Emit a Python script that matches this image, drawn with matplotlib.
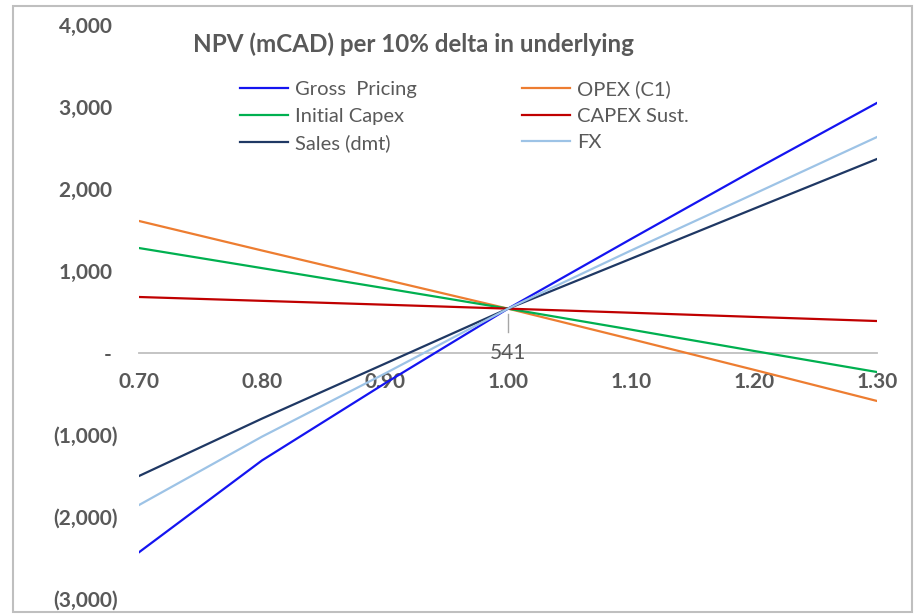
import matplotlib.pyplot as plt
import matplotlib.patches as patches
from matplotlib.ticker import FuncFormatter

plt.rcParams['font.family'] = ['Lato', 'DejaVu Sans']

# sensitivity factor on the underlying
factors = [0.70, 0.80, 0.90, 1.00, 1.10, 1.20, 1.30]

# NPV (mCAD) for each driver
gross_pricing = [-2430, -1310, -370, 541, 1390, 2230, 3050]
opex_c1 = [1610, 1250, 895, 541, 170, -205, -585]
initial_capex = [1280, 1035, 790, 541, 285, 25, -232]
capex_sust = [683, 636, 589, 541, 491, 440, 390]
sales_dmt = [-1500, -800, -130, 541, 1150, 1760, 2366]
fx = [-1854, -1020, -250, 541, 1250, 1940, 2634]

series = [
    ('Gross  Pricing', gross_pricing, '#1414F0'),
    ('OPEX (C1)', opex_c1, '#ED7D31'),
    ('Initial Capex', initial_capex, '#00B050'),
    ('CAPEX Sust.', capex_sust, '#C00000'),
    ('Sales (dmt)', sales_dmt, '#1F3864'),
    ('FX', fx, '#9DC3E6'),
]

base_npv = 541
gray = '#595959'

fig = plt.figure(figsize=(9.2, 6.16), dpi=100)
ax = fig.add_axes([139 / 920, (616 - 599) / 616, (877 - 139) / 920, (599 - 25) / 616])

lines = []
for name, vals, col in series:
    ln, = ax.plot(factors, vals, color=col, lw=1.6, label=name)
    lines.append(ln)

ax.set_xlim(0.70, 1.30)
ax.set_ylim(-3000, 4000)
ax.set_xticks(factors)
ax.set_yticks(range(-3000, 4001, 1000))


def npv_fmt(v, pos):
    # accounting style: dash for zero, brackets for negatives
    if v == 0:
        return '- '
    if v < 0:
        return '({:,.0f})'.format(-v)
    return '{:,.0f} '.format(v)


ax.yaxis.set_major_formatter(FuncFormatter(npv_fmt))
ax.xaxis.set_major_formatter(FuncFormatter(lambda v, p: '{:.2f}'.format(v)))

for s in ['top', 'right', 'left']:
    ax.spines[s].set_visible(False)
ax.spines['bottom'].set_position(('data', 0))
ax.spines['bottom'].set_color('#BFBFBF')
ax.spines['bottom'].set_linewidth(1.3)
ax.spines['bottom'].set_zorder(0)

ax.tick_params(axis='both', length=0, labelcolor=gray, labelsize=15)
ax.tick_params(axis='x', pad=14)
ax.tick_params(axis='y', pad=15.5)
for lbl in ax.get_xticklabels() + ax.get_yticklabels():
    lbl.set_fontweight('bold')

# data label for the base case with leader line
ax.plot([1.0, 1.0], [480, 260], color='#A6A6A6', lw=1, zorder=1)
ax.text(1.0, 0, f'{base_npv}', ha='center', va='center', color=gray, fontsize=15)

fig.text(193 / 920, 1 - 44 / 616, 'NPV (mCAD) per 10% delta in underlying',
         fontsize=17.4, fontweight='bold', color=gray, va='center')

# legend fills column-wise, so order handles to read row by row
order = [0, 2, 4, 1, 3, 5]
leg = ax.legend([lines[i] for i in order], [series[i][0] for i in order],
                ncol=2, loc='upper left', bbox_to_anchor=(240 / 920, 1 - 80 / 616),
                bbox_transform=fig.transFigure, frameon=False, fontsize=14.5,
                handlelength=2.4, handletextpad=0.35, columnspacing=5.2,
                labelspacing=0.48, borderaxespad=0, borderpad=0)
for t in leg.get_texts():
    t.set_color(gray)

# chart frame
fig.patches.append(patches.Rectangle((13 / 920, 1 - 612 / 616), (912 - 13) / 920, (612 - 6) / 616,
                                     transform=fig.transFigure, fill=False,
                                     edgecolor='#BFBFBF', lw=1.5))

fig.savefig('out.png', dpi=100)
